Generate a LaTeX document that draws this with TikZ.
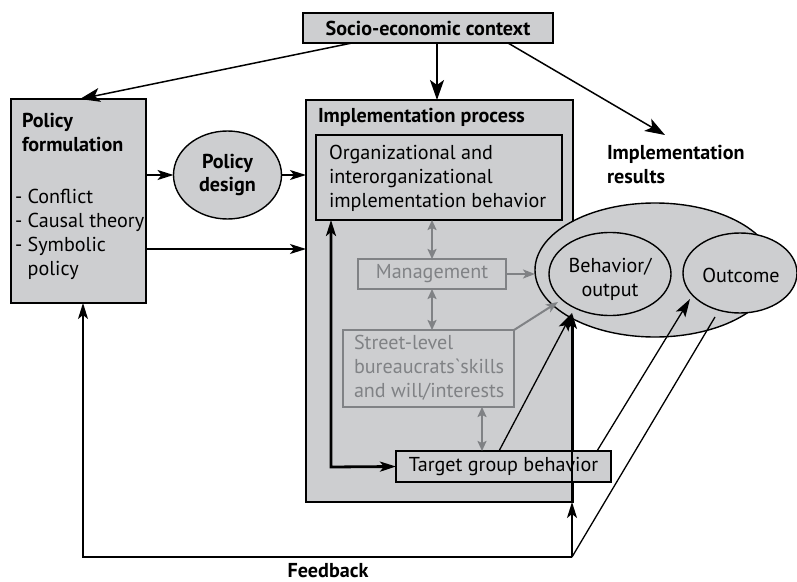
\documentclass[tikz,border=0pt]{standalone}
\usepackage{fontspec}
\setmainfont{PT Sans}[Ligatures=TeXOff]
\usetikzlibrary{shapes.geometric,arrows.meta,calc}

\definecolor{boxfill}{RGB}{205,206,208}
\definecolor{softgray}{RGB}{128,130,133}

\tikzset{
  box/.style={draw=black, fill=boxfill, line width=2.6bp, inner sep=0pt, outer sep=0pt},
  graybox/.style={draw=softgray, fill=boxfill, line width=2bp, inner sep=0pt, outer sep=0pt, text=softgray},
  lbl/.style={inner sep=0pt, outer sep=0pt, align=left, anchor=north west},
  oval/.style={ellipse, draw=black, fill=boxfill, line width=1.4bp, inner sep=0pt, outer sep=0pt},
  arr/.style={-{Stealth[length=16bp,width=10bp,inset=4bp]}, line width=1.8bp},
  bigarr/.style={-{Stealth[length=20bp,width=14bp,inset=5bp]}, line width=1.5bp},
  thinarr/.style={-{Stealth[length=18bp,width=11bp,inset=4bp]}, line width=1.3bp},
  grayarr/.style={draw=softgray, line width=2bp,
    {Stealth[length=10bp,width=9bp,inset=2bp]}-{Stealth[length=10bp,width=9bp,inset=2bp]}},
  grayone/.style={draw=softgray, line width=2bp, -{Stealth[length=12bp,width=9bp,inset=3bp]}},
  bracket/.style={line width=2.8bp,
    {Stealth[length=16bp,width=10bp,inset=4bp]}-{Stealth[length=16bp,width=10bp,inset=4bp]}},
}

\begin{document}
\begin{tikzpicture}[x=1bp, y=-1bp, font=\fontsize{20.2}{24}\selectfont]
\useasboundingbox (0,0) rectangle (797,582);

% --- context and policy side ---
\node[box, minimum width=250bp, minimum height=30bp] (ctx) at (428,28) {\bfseries Socio-economic context};
\node[box, minimum width=135bp, minimum height=204bp] (pf) at (78.5,201) {};
\node[lbl] (pftitle) at (22,113.5) {\bfseries Policy\\\bfseries formulation};
\node[lbl] (pflist) at (15,189.5) {- Conflict\\- Causal theory\\- Symbolic\\\phantom{- }policy};
\node[oval, minimum width=108bp, minimum height=88bp, align=center] (pd) at (227.5,175) {\bfseries Policy\\\bfseries design};

% --- implementation process ---
\node[box, line width=2bp, minimum width=267bp, minimum height=402bp] (ip) at (439.5,301) {};
\node[lbl] (iptitle) at (318,108.5) {\bfseries Implementation process};
\node[box, minimum width=246bp, minimum height=85bp] (ob) at (439,177.5) {};
\node[lbl] (obtext) at (329,145.5) {Organizational and\\interorganizational\\implementation behavior};
\node[graybox, minimum width=148bp, minimum height=30bp] (mg) at (432,274) {Management};
\node[graybox, minimum width=171bp, minimum height=77bp] (sl) at (428.5,368.5) {};
\node[lbl, text=softgray] (sltext) at (354,335.5) {Street-level\\bureaucrats`skills\\and will/interests};
\node[box, minimum width=215bp, minimum height=31bp] (tg) at (503.5,466.5) {Target group behavior};

% --- implementation results ---
\node[lbl] (restitle) at (607,145.5) {\bfseries Implementation\\\bfseries results};
\node[oval, minimum width=240bp, minimum height=134bp] (res) at (655,270) {};
\node[oval, minimum width=122bp, minimum height=83bp] (bo) at (610,274) {};
\node[align=center, inner sep=0pt] (botext) at (610,279) {Behavior/\\output};
\node[oval, minimum width=114bp, minimum height=80bp] (oc) at (740,273) {};
\node[inner sep=0pt] (octext) at (741,275) {Outcome};

\node[inner sep=0pt, anchor=base] (fbtext) at (328,577) {\bfseries Feedback};

% --- connector end points ---
\coordinate (ctxL) at (352,43);
\coordinate (pfin) at (80,99);
\coordinate (ctxR) at (508,43);
\coordinate (resarrow) at (665,135);
\coordinate (bend) at (331,467);
\coordinate (boin) at (572,313);
\coordinate (tgA) at (499,451);
\coordinate (tgB) at (597,451);
\coordinate (ocin) at (690,299);
\coordinate (ocfoot) at (715,317);
\coordinate (fb) at (572,557);
\coordinate (fbleft) at (83,557);

% --- arrows from the context ---
\draw[bigarr] (ctxL) -- (pfin);
\draw[bigarr] (437,43) -- (437,100);
\draw[bigarr] (ctxR) -- (resarrow);

% --- policy to implementation ---
\draw[arr] (pd.west -| pf.east) -- (pd.west);
\draw[arr] (pd.east) -- (pd.east -| ip.west);
\draw[arr] (pf.east |- 0,249) -- (ip.west |- 0,249);

% --- inside the implementation process ---
\draw[bracket] (bend |- ob.south) -- (bend) -- (tg.west);
\draw[grayarr] (mg.north |- ob.south) -- (mg.north);
\draw[grayarr] (mg.south) -- (mg.south |- sl.north);
\draw[grayarr] (482,407) -- (482,451);
\draw[grayone] (mg.east) -- (mg.east -| res.west);
\draw[grayone] (sl.north east) -- (558,302);

% --- to the results ---
\draw[thinarr] (tgA) -- (boin);
\draw[arr] (572,502) -- (boin);
\draw[thinarr] (tgB) -- (ocin);

% --- feedback loop ---
\draw[line width=1.3bp] (ocfoot) -- (fb);
\draw[arr] (fb) -- (572,502);
\draw[arr] (fb) -- (fbleft) -- (fbleft |- pf.south);
\end{tikzpicture}
\end{document}
